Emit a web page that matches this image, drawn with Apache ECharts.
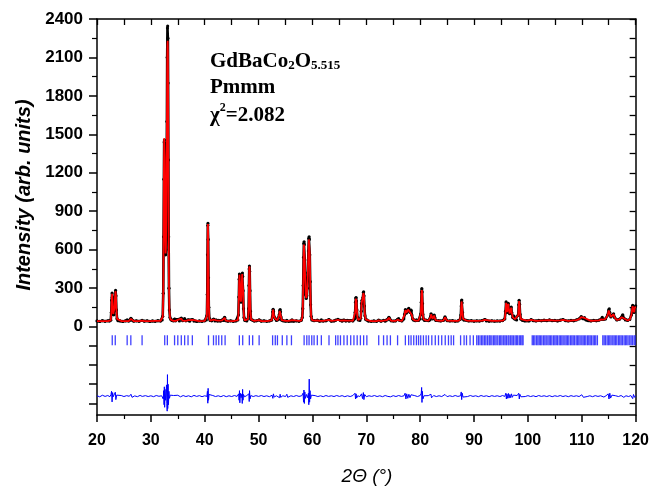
<!DOCTYPE html>
<html>
<head>
<meta charset="utf-8">
<script src="https://cdn.jsdelivr.net/npm/echarts@6/dist/echarts.min.js"></script>
<style>
  html, body { margin: 0; padding: 0; background: #fff; }
  #chart { width: 652px; height: 487px; }
</style>
</head>
<body>
<div id="chart"></div>
<script>
// observed intensity [2theta, counts]
const observed = [
  [20.0,44],[20.5,40],[21.0,46],[21.5,41],[22.0,45],[22.3,43],
  [22.55,50],[22.65,110],[22.72,205],[22.8,262],[22.86,228],[22.93,150],[23.02,95],[23.12,92],[23.25,140],[23.35,230],[23.45,282],[23.52,240],[23.6,130],[23.72,62],[23.9,46],
  [24.3,44],[24.8,40],[25.3,45],[25.6,52],[25.9,43],[26.1,50],[26.3,64],[26.45,50],[26.8,42],[27.3,45],[27.8,41],[28.37,48],[28.8,42],[29.3,45],[29.8,40],[30.3,44],[30.8,41],[31.3,46],[31.8,43],[32.1,52],
  [32.2,80],[32.3,260],[32.36,700],[32.42,1150],[32.47,1440],[32.52,1455],[32.57,1300],[32.62,1000],[32.68,700],[32.74,560],[32.8,600],[32.86,800],[32.92,1150],[32.98,1600],[33.03,2100],[33.08,2330],[33.12,2345],[33.16,2250],[33.2,1900],[33.25,1300],[33.3,700],[33.36,300],[33.43,130],[33.55,70],[33.7,55],
  [33.9,48],[34.2,44],[34.4,58],[34.6,45],[35.0,55],[35.3,44],[35.65,66],[35.9,46],[36.27,62],[36.5,45],[36.9,52],[37.2,42],[37.7,55],[38.0,43],[38.5,40],[39.0,44],[39.5,41],[40.0,45],[40.3,52],
  [40.4,85],[40.47,250],[40.52,560],[40.57,790],[40.6,805],[40.64,680],[40.7,380],[40.76,150],[40.85,65],[41.0,48],
  [41.3,45],[41.65,58],[41.9,44],[42.15,50],[42.4,42],[42.6,48],[42.9,42],[43.2,50],[43.5,48],[43.7,72],[43.9,46],[44.3,42],[44.8,45],[45.3,41],[45.8,44],[46.15,52],
  [46.25,90],[46.33,230],[46.4,370],[46.45,410],[46.5,395],[46.57,300],[46.65,210],[46.73,190],[46.8,240],[46.88,340],[46.95,405],[47.0,418],[47.05,390],[47.12,280],[47.2,140],[47.3,70],[47.45,48],
  [47.8,44],[48.05,60],[48.15,140],[48.21,320],[48.26,450],[48.3,472],[48.35,430],[48.41,280],[48.48,120],[48.6,55],[48.9,50],[49.2,43],[49.6,45],[50.1,52],[50.5,42],[51.0,45],[51.5,41],[52.0,44],[52.4,50],
  [52.55,75],[52.63,115],[52.7,135],[52.77,118],[52.85,80],[53.1,62],[53.3,48],[53.5,52],[53.7,55],[53.85,95],[53.93,125],[54.0,133],[54.07,115],[54.15,75],[54.3,50],[54.6,44],[55.0,42],[55.25,48],[55.6,41],[56.0,44],[56.2,52],[56.5,42],[57.0,45],[57.5,41],[57.9,48],[58.1,70],
  [58.2,140],[58.28,320],[58.35,540],[58.41,650],[58.45,662],[58.5,640],[58.57,520],[58.65,360],[58.75,250],[58.85,220],[58.95,240],[59.05,300],[59.15,420],[59.25,590],[59.33,690],[59.38,700],[59.43,680],[59.5,560],[59.58,350],[59.66,170],[59.75,80],[59.9,52],
  [60.3,46],[60.9,50],[61.3,42],[61.65,52],[62.0,43],[62.5,45],[63.07,55],[63.5,42],[64.0,44],[64.3,50],[64.73,56],[65.2,48],[65.5,42],[65.84,50],[66.2,43],[66.45,48],[66.8,42],[67.1,47],[67.5,44],[67.8,60],
  [67.92,110],[68.0,190],[68.06,222],[68.1,226],[68.16,200],[68.24,130],[68.35,72],[68.5,52],[68.8,48],[68.95,65],[69.05,120],[69.12,180],[69.2,205],[69.28,185],[69.36,225],[69.45,265],[69.5,270],[69.56,240],[69.64,160],[69.75,85],[69.9,55],[70.1,52],
  [70.4,43],[70.9,41],[71.4,44],[71.9,41],[72.3,50],[72.7,42],[73.2,48],[73.5,42],[73.85,52],[74.05,60],[74.2,72],[74.35,58],[74.6,45],[75.0,43],[75.4,44],[75.8,56],[76.0,62],[76.2,48],[76.6,44],[76.95,60],
  [77.1,95],[77.25,132],[77.35,118],[77.45,105],[77.6,120],[77.75,135],[77.88,142],[78.0,125],[78.12,110],[78.22,120],[78.32,128],[78.45,90],[78.6,60],[78.8,50],[79.1,46],[79.3,52],[79.7,48],[80.0,60],
  [80.12,100],[80.2,190],[80.26,270],[80.3,296],[80.35,270],[80.42,180],[80.5,95],[80.62,58],[80.8,48],[81.1,50],[81.55,46],[81.8,52],[81.95,80],[82.02,100],[82.1,85],[82.3,60],[82.5,70],[82.6,90],[82.7,72],[82.9,48],[83.4,46],[83.8,44],[84.3,48],[84.5,62],[84.6,75],[84.7,60],[85.0,46],[85.5,44],[86.0,46],[86.5,42],[87.0,44],[87.4,55],
  [87.55,90],[87.62,160],[87.68,200],[87.72,207],[87.78,185],[87.86,110],[87.96,60],[88.15,50],[88.6,48],[89.0,44],[89.5,46],[90.0,42],[90.5,45],[91.0,43],[91.5,47],[92.0,55],[92.3,44],[92.8,42],[93.3,45],[93.8,42],[94.3,44],[94.8,43],[95.3,47],[95.7,60],
  [95.85,120],[95.95,192],[96.05,150],[96.15,110],[96.25,150],[96.35,182],[96.45,140],[96.6,100],[96.8,130],[96.9,152],[97.0,110],[97.2,70],[97.4,82],[97.6,58],[97.9,52],[98.2,90],[98.3,170],[98.37,205],[98.45,175],[98.55,95],[98.7,58],[99.0,48],
  [99.4,44],[99.8,46],[100.2,44],[100.6,55],[101.0,46],[101.5,44],[102.0,48],[102.5,45],[103.0,50],[103.5,46],[104.0,52],[104.5,46],[105.0,48],[105.5,44],[106.0,50],[106.5,55],[107.0,46],[107.5,44],[108.0,48],[108.5,45],[109.0,52],[109.5,60],[109.9,78],[110.2,62],[110.5,70],[110.8,52],[111.2,46],[111.7,44],[112.2,48],[112.7,45],[113.2,50],[113.6,58],[113.8,72],[114.0,55],[114.4,60],[114.8,90],[115.0,130],[115.1,138],[115.2,110],[115.4,75],[115.6,85],[115.9,100],[116.1,70],[116.5,52],[117.0,58],[117.4,75],[117.6,92],[117.8,65],[118.1,52],[118.5,48],[118.9,55],[119.2,90],[119.35,140],[119.45,166],[119.55,130],[119.7,110],[119.85,150],[120.0,162]
];

// calculated profile [2theta, counts]
const calculated = [
  [20,42],[21,43],[22,43],[22.3,43],[22.55,48],[22.65,105],[22.72,200],[22.8,255],[22.86,225],[22.93,150],[23.02,98],[23.12,95],[23.25,145],[23.35,232],[23.45,276],[23.52,238],[23.6,130],[23.72,60],[23.9,45],
  [24.5,43],[25.3,43],[25.6,48],[25.9,43],[26.1,48],[26.3,60],[26.45,48],[26.8,43],[27.8,43],[28.37,46],[28.8,43],[29.8,43],[30.8,44],[31.8,45],[32.1,50],
  [32.2,75],[32.3,240],[32.36,720],[32.42,1200],[32.47,1470],[32.52,1480],[32.57,1320],[32.62,980],[32.68,690],[32.74,570],[32.8,620],[32.86,820],[32.92,1130],[32.98,1550],[33.03,1980],[33.08,2200],[33.12,2230],[33.16,2150],[33.2,1850],[33.25,1300],[33.3,720],[33.36,320],[33.43,140],[33.55,70],[33.7,54],
  [33.9,47],[34.2,45],[34.4,55],[34.6,45],[35.0,52],[35.3,45],[35.65,62],[35.9,46],[36.27,58],[36.5,45],[36.9,50],[37.2,44],[37.7,52],[38.0,44],[39.0,43],[40.0,44],[40.3,50],
  [40.4,82],[40.47,245],[40.52,550],[40.57,780],[40.6,800],[40.64,690],[40.7,390],[40.76,155],[40.85,65],[41.0,47],
  [41.3,45],[41.65,55],[41.9,45],[42.15,48],[42.4,44],[42.6,46],[42.9,44],[43.2,48],[43.5,47],[43.7,68],[43.9,46],[44.3,44],[45.3,43],[46.15,50],
  [46.25,88],[46.33,225],[46.4,362],[46.45,405],[46.5,395],[46.57,305],[46.65,215],[46.73,195],[46.8,245],[46.88,345],[46.95,410],[47.0,420],[47.05,395],[47.12,285],[47.2,142],[47.3,70],[47.45,48],
  [47.8,45],[48.05,58],[48.15,135],[48.21,315],[48.26,448],[48.3,470],[48.35,432],[48.41,285],[48.48,122],[48.6,55],[48.9,49],[49.2,44],[50.1,50],[50.5,43],[51.5,43],[52.4,48],
  [52.55,72],[52.63,112],[52.7,132],[52.77,120],[52.85,82],[53.1,60],[53.3,48],[53.5,50],[53.7,54],[53.85,92],[53.93,122],[54.0,130],[54.07,115],[54.15,76],[54.3,50],[54.6,45],[55.0,44],[55.25,47],[55.6,44],[56.2,50],[56.5,44],[57.5,44],[57.9,47],[58.1,68],
  [58.2,138],[58.28,318],[58.35,530],[58.41,640],[58.45,652],[58.5,635],[58.57,525],[58.65,365],[58.75,255],[58.85,222],[58.95,242],[59.05,302],[59.15,425],[59.25,585],[59.33,680],[59.38,690],[59.43,675],[59.5,565],[59.58,352],[59.66,172],[59.75,80],[59.9,52],
  [60.3,46],[60.9,48],[61.3,44],[61.65,50],[62.0,44],[63.07,52],[63.5,44],[64.3,48],[64.73,53],[65.2,47],[65.5,44],[65.84,48],[66.2,44],[66.45,47],[67.1,46],[67.5,45],[67.8,58],
  [67.92,108],[68.0,185],[68.06,218],[68.1,222],[68.16,202],[68.24,132],[68.35,72],[68.5,52],[68.8,48],[68.95,63],[69.05,118],[69.12,178],[69.2,200],[69.28,188],[69.36,228],[69.45,262],[69.5,265],[69.56,242],[69.64,162],[69.75,85],[69.9,55],[70.1,50],
  [70.9,43],[71.9,43],[72.3,48],[72.7,43],[73.2,46],[73.85,50],[74.05,58],[74.2,68],[74.35,56],[74.6,45],[75.4,44],[75.8,54],[76.0,58],[76.2,47],[76.6,45],[76.95,58],
  [77.1,92],[77.25,128],[77.35,120],[77.45,108],[77.6,118],[77.75,132],[77.88,138],[78.0,128],[78.12,112],[78.22,118],[78.32,125],[78.45,90],[78.6,60],[78.8,50],[79.1,46],[79.3,50],[79.7,47],[80.0,58],
  [80.12,98],[80.2,185],[80.26,262],[80.3,285],[80.35,265],[80.42,182],[80.5,96],[80.62,58],[80.8,48],[81.1,48],[81.55,46],[81.8,50],[81.95,76],[82.02,96],[82.1,84],[82.3,60],[82.5,68],[82.6,86],[82.7,70],[82.9,48],[83.8,45],[84.3,47],[84.5,60],[84.6,72],[84.7,60],[85.0,46],[86.0,45],[87.0,44],[87.4,53],
  [87.55,88],[87.62,155],[87.68,196],[87.72,202],[87.78,183],[87.86,112],[87.96,60],[88.15,50],[88.6,47],[89.5,45],[90.5,45],[91.5,46],[92.0,52],[92.3,45],[93.3,44],[94.3,44],[95.3,46],[95.7,58],
  [95.85,118],[95.95,186],[96.05,152],[96.15,112],[96.25,148],[96.35,178],[96.45,142],[96.6,102],[96.8,128],[96.9,148],[97.0,112],[97.2,72],[97.4,78],[97.6,58],[97.9,52],[98.2,88],[98.3,165],[98.37,198],[98.45,172],[98.55,96],[98.7,58],[99.0,48],
  [99.8,46],[100.6,52],[101.5,45],[103.0,48],[104.0,50],[105.0,47],[106.0,49],[106.5,53],[107.5,45],[109.0,50],[109.5,58],[109.9,74],[110.2,62],[110.5,67],[110.8,52],[111.7,45],[113.2,48],[113.6,56],[113.8,68],[114.0,55],[114.4,60],[114.8,88],[115.0,125],[115.1,132],[115.2,110],[115.4,76],[115.6,84],[115.9,96],[116.1,70],[116.5,53],[117.0,57],[117.4,73],[117.6,88],[117.8,65],[118.1,52],[118.5,48],[118.9,54],[119.2,88],[119.35,135],[119.45,160],[119.55,132],[119.7,112],[119.85,146],[120.0,156]
];

// obs - calc, shifted down
const difference = [
  [20,-540],[20.5,-548],[21,-536],[21.5,-545],[22,-538],[22.4,-547],[22.6,-530],[22.7,-505],[22.8,-588],[22.9,-515],[23.0,-548],[23.3,-560],[23.4,-512],[23.5,-570],[23.65,-535],
  [24.0,-545],[24.5,-538],[25.0,-546],[25.5,-539],[26.0,-544],[26.3,-528],[26.5,-552],[27.0,-541],[27.5,-547],[28.0,-537],[28.4,-545],[29.0,-539],[29.5,-546],[30.0,-540],[30.5,-547],[31.0,-538],[31.5,-544],[32.0,-540],
  [32.2,-530],[32.3,-565],[32.38,-500],[32.45,-610],[32.5,-470],[32.56,-630],[32.63,-490],[32.72,-575],[32.82,-520],[32.9,-455],[32.97,-600],[33.03,-660],[33.08,-375],[33.13,-640],[33.2,-450],[33.27,-610],[33.35,-505],[33.45,-560],[33.6,-535],
  [33.8,-546],[34.2,-538],[34.5,-550],[35.0,-536],[35.5,-548],[36.0,-538],[36.5,-546],[37.0,-540],[37.5,-548],[38.0,-537],[38.5,-545],[39.0,-539],[39.5,-547],[40.0,-540],[40.4,-545],
  [40.5,-505],[40.57,-598],[40.63,-482],[40.7,-575],[40.8,-530],
  [41.0,-545],[41.5,-538],[42.0,-546],[42.5,-540],[43.0,-547],[43.5,-538],[43.7,-525],[44.0,-547],[44.5,-540],[45.0,-546],[45.5,-538],[46.0,-545],
  [46.3,-525],[46.38,-575],[46.45,-500],[46.52,-595],[46.6,-520],[46.75,-555],[46.9,-525],[46.97,-600],[47.03,-490],[47.1,-575],[47.2,-530],[47.4,-548],[47.8,-538],
  [48.2,-525],[48.26,-585],[48.32,-500],[48.4,-565],[48.55,-538],
  [49.0,-546],[49.5,-539],[50.0,-545],[50.5,-538],[51.0,-546],[51.5,-540],[52.0,-547],[52.5,-536],[52.65,-560],[52.75,-525],[52.9,-550],[53.3,-540],[53.9,-555],[54.0,-528],[54.1,-552],[54.5,-540],[55.0,-546],[55.25,-528],[55.4,-552],[56.0,-540],[56.5,-546],[57.0,-538],[57.5,-545],[58.0,-540],
  [58.25,-520],[58.35,-590],[58.42,-495],[58.5,-600],[58.58,-510],[58.7,-560],[58.9,-530],[59.1,-555],[59.25,-520],[59.32,-610],[59.4,-410],[59.47,-590],[59.55,-500],[59.65,-565],[59.8,-535],
  [60.1,-547],[60.5,-539],[61.0,-546],[61.5,-540],[62.0,-547],[62.5,-538],[63.0,-545],[63.5,-540],[64.0,-546],[64.5,-538],[65.0,-545],[65.5,-539],[66.0,-547],[66.5,-540],[67.0,-546],[67.5,-538],
  [67.9,-520],[68.0,-565],[68.1,-525],[68.2,-558],[68.4,-540],[68.8,-546],[69.1,-525],[69.3,-562],[69.45,-515],[69.55,-570],[69.7,-530],
  [70.0,-547],[70.5,-540],[71.0,-545],[71.5,-538],[72.0,-546],[72.5,-540],[73.0,-547],[73.5,-538],[74.0,-545],[74.2,-530],[74.5,-548],[75.0,-539],[75.5,-546],[76.0,-538],[76.5,-545],[77.0,-540],
  [77.2,-520],[77.35,-565],[77.5,-525],[77.7,-560],[77.9,-528],[78.1,-555],[78.3,-532],[78.6,-546],[79.0,-539],[79.5,-546],[80.0,-538],
  [80.2,-520],[80.27,-475],[80.33,-592],[80.4,-505],[80.5,-565],[80.7,-540],
  [81.0,-546],[81.5,-539],[82.0,-528],[82.1,-556],[82.5,-538],[83.0,-546],[83.5,-540],[84.0,-546],[84.6,-530],[85.0,-547],[85.5,-540],[86.0,-546],[86.5,-538],[87.0,-545],[87.5,-540],
  [87.62,-510],[87.7,-570],[87.8,-520],[87.95,-550],
  [88.3,-540],[88.8,-546],[89.3,-538],[89.8,-545],[90.3,-540],[90.8,-547],[91.3,-538],[91.8,-545],[92.3,-540],[92.8,-547],[93.3,-539],[93.8,-545],[94.3,-540],[94.8,-546],[95.3,-538],[95.7,-545],
  [95.9,-520],[96.0,-565],[96.1,-525],[96.25,-560],[96.4,-522],[96.5,-558],[96.65,-530],[96.8,-555],[96.95,-525],[97.1,-552],[97.3,-535],[97.6,-548],[98.0,-538],[98.3,-520],[98.4,-565],[98.5,-528],[98.7,-548],
  [99.0,-540],[99.5,-546],[100.0,-539],[100.5,-546],[101.0,-540],[101.5,-547],[102.0,-538],[102.5,-545],[103.0,-540],[103.5,-546],[104.0,-539],[104.5,-547],[105.0,-540],[105.5,-545],[106.0,-538],[106.5,-546],[107.0,-540],[107.5,-547],[108.0,-539],[108.5,-545],[109.0,-540],[109.5,-546],
  [110.0,-532],[110.3,-552],[110.6,-538],[111.0,-546],[111.5,-540],[112.0,-547],[112.5,-539],[113.0,-545],[113.5,-540],[113.8,-530],[114.1,-550],[114.5,-540],
  [114.9,-525],[115.05,-565],[115.2,-520],[115.35,-558],[115.6,-535],[115.9,-550],[116.3,-540],[116.8,-546],[117.3,-538],[117.6,-528],[117.8,-552],[118.2,-540],[118.7,-546],[119.1,-538],[119.3,-525],[119.45,-562],[119.6,-530],[119.8,-552],[120.0,-540]
];

// Bragg reflection positions (2theta)
const braggPositions = [
  22.83, 23.39, 25.6, 26.28, 28.37, 32.57, 33.06, 34.4, 35.0, 35.65, 36.27, 36.9, 37.7,
  40.7, 41.63, 42.12, 42.6, 43.16, 43.78, 46.43, 47.05, 48.28, 48.9, 50.1,
  52.6, 53.1, 53.5, 54.4, 55.25, 56.1, 58.45, 58.95, 59.37, 59.87, 60.3, 60.9, 61.65,
  63.07, 64.3, 64.73, 65.2, 65.84, 66.45, 67.1, 67.7, 68.3, 68.9, 69.5, 70.1,
  72.3, 73.2, 73.85, 74.47, 75.8, 77.25, 77.86, 78.3, 78.8, 79.3, 79.7, 80.1, 80.6,
  81.1, 81.55, 82.16, 82.8, 83.4, 84.0, 84.65, 85.25, 85.75, 86.2,
  87.5, 88.15, 88.6, 89.26, 89.87, 90.5, 90.8, 91.1, 91.4, 91.65, 91.95, 92.2, 92.5,
  92.8, 93.0, 93.3, 93.6, 93.85, 94.1, 94.4, 94.7, 94.95, 95.2, 95.5, 95.75, 96.0,
  96.3, 96.5, 96.8, 97.05, 97.3, 97.6, 97.85, 98.1, 98.4, 98.65, 98.9, 99.1,
  100.8, 101.05, 101.3, 101.6, 101.85, 102.1, 102.35, 102.6, 102.9, 103.15, 103.4,
  103.7, 103.95, 104.2, 104.45, 104.75, 105.0, 105.25, 105.5, 105.8, 106.05, 106.3,
  106.55, 106.85, 107.1, 107.35, 107.6, 107.9, 108.15, 108.4, 108.65, 108.95, 109.2,
  109.45, 109.7, 110.0, 110.25, 110.5, 110.75, 111.05, 111.3, 111.55, 111.8, 112.1,
  112.35, 112.6, 112.9, 113.9, 114.15, 114.4, 114.7, 114.95, 115.2, 115.45, 115.75,
  116.0, 116.25, 116.5, 116.8, 117.05, 117.3, 117.55, 117.85, 118.1, 118.35, 118.6,
  118.9, 119.15, 119.4, 119.7, 119.9
];
const braggLevel = -107;

const yLabelValues = [0, 300, 600, 900, 1200, 1500, 1800, 2100, 2400];
const yMajorTicks = [-600, -450, -300, -150, 0, 300, 600, 900, 1200, 1500, 1800, 2100, 2400];
const yMinorTicks = [150, 450, 750, 1050, 1350, 1650, 1950, 2250];
const yRightTicks = [-600, -450, -300, -150, 0, 150, 300, 450, 600, 750, 900, 1050, 1200,
  1350, 1500, 1650, 1800, 1950, 2100, 2250, 2400];

const Y_MIN = -690;
const Y_MAX = 2400;
const LABEL_FONT = "Liberation Sans, Arial, sans-serif";
const SERIF = "Liberation Serif, Times New Roman, serif";

const chart = echarts.init(document.getElementById("chart"), null, { renderer: "canvas" });

const gridBox = { left: 97, right: 14, top: 19, bottom: 72 };
const blackLine = { show: true, onZero: false, lineStyle: { color: "#000", width: 1.5 } };

chart.setOption({
  animation: false,
  backgroundColor: "#fff",
  grid: [
    { ...gridBox, containLabel: false },
    { ...gridBox, containLabel: false },
  ],
  xAxis: [
    {
      gridIndex: 0,
      type: "value",
      position: "bottom",
      min: 20,
      max: 120,
      interval: 10,
      axisLine: blackLine,
      axisTick: { inside: false, length: 7, lineStyle: { color: "#000", width: 1.5 } },
      minorTick: { show: true, splitNumber: 2, length: 4, lineStyle: { color: "#000", width: 1.2 } },
      axisLabel: {
        color: "#000",
        fontFamily: LABEL_FONT,
        fontWeight: "bold",
        fontSize: 16,
        margin: 18,
        formatter: (v) => String(v),
      },
      splitLine: { show: false },
    },
    {
      gridIndex: 0,
      type: "value",
      position: "top",
      min: 20,
      max: 120,
      interval: 5,
      axisLine: blackLine,
      axisTick: { inside: true, length: 6, lineStyle: { color: "#000", width: 1.3 } },
      axisLabel: { show: false },
      splitLine: { show: false },
    },
    {
      gridIndex: 1,
      type: "value",
      min: 20,
      max: 120,
      show: false,
    },
  ],
  yAxis: [
    {
      gridIndex: 0,
      type: "value",
      position: "left",
      min: Y_MIN,
      max: Y_MAX,
      axisLine: blackLine,
      axisTick: {
        inside: false,
        length: 8,
        customValues: yMajorTicks,
        lineStyle: { color: "#000", width: 1.5 },
      },
      axisLabel: {
        customValues: yLabelValues,
        color: "#000",
        fontFamily: LABEL_FONT,
        fontWeight: "bold",
        fontSize: 17,
        margin: 14,
        formatter: (v) => String(v),
      },
      splitLine: { show: false },
    },
    {
      gridIndex: 0,
      type: "value",
      position: "right",
      min: Y_MIN,
      max: Y_MAX,
      axisLine: blackLine,
      axisTick: {
        inside: true,
        length: 6,
        customValues: yRightTicks,
        lineStyle: { color: "#000", width: 1.3 },
      },
      axisLabel: { show: false },
      splitLine: { show: false },
    },
    {
      gridIndex: 1,
      type: "value",
      position: "left",
      min: Y_MIN,
      max: Y_MAX,
      axisLine: { show: false },
      axisTick: {
        inside: false,
        length: 5,
        customValues: yMinorTicks,
        lineStyle: { color: "#000", width: 1.2 },
      },
      axisLabel: { show: false },
      splitLine: { show: false },
    },
  ],
  series: [
    {
      name: "Observed",
      type: "line",
      xAxisIndex: 0,
      yAxisIndex: 0,
      data: observed,
      symbol: "circle",
      symbolSize: 3.2,
      showSymbol: true,
      showAllSymbol: true,
      itemStyle: { color: "#000" },
      lineStyle: { color: "#000", width: 2.6 },
      z: 2,
    },
    {
      name: "Calculated",
      type: "line",
      xAxisIndex: 0,
      yAxisIndex: 0,
      data: calculated,
      symbol: "none",
      lineStyle: { color: "#ff0000", width: 1.8 },
      z: 3,
    },
    {
      name: "Bragg",
      type: "scatter",
      xAxisIndex: 0,
      yAxisIndex: 0,
      data: braggPositions.map((p) => [p, braggLevel]),
      symbol: "rect",
      symbolSize: [1.3, 10],
      itemStyle: { color: "#1010ff" },
      z: 2,
    },
    {
      name: "Difference",
      type: "line",
      xAxisIndex: 0,
      yAxisIndex: 0,
      data: difference,
      symbol: "none",
      lineStyle: { color: "#0000ff", width: 1 },
      z: 2,
    },
  ],
  graphic: [
    {
      type: "text",
      x: 24,
      y: 195,
      rotation: Math.PI / 2,
      style: {
        text: "Intensity (arb. units)",
        font: "italic bold 20px " + LABEL_FONT,
        fill: "#000",
        align: "center",
        verticalAlign: "middle",
        textAlign: "center",
        textVerticalAlign: "middle",
      },
    },
    {
      type: "text",
      x: 367,
      y: 477,
      style: {
        text: "2Θ (°)",
        font: "italic 19px " + LABEL_FONT,
        fill: "#000",
        align: "center",
        verticalAlign: "middle",
        textAlign: "center",
        textVerticalAlign: "middle",
      },
    },
    {
      type: "text",
      x: 210,
      y: 48,
      style: {
        text: "{m|GdBaCo}{s|2}{m|O}{s|5.515}",
        fill: "#000",
        align: "left",
        verticalAlign: "top",
        rich: {
          m: { font: "bold 21px " + SERIF, lineHeight: 24, verticalAlign: "bottom", fill: "#000" },
          s: { font: "bold 13px " + SERIF, lineHeight: 14, verticalAlign: "bottom", fill: "#000" },
        },
      },
    },
    {
      type: "text",
      x: 210,
      y: 76,
      style: {
        text: "{m|Pmmm}",
        fill: "#000",
        align: "left",
        verticalAlign: "top",
        rich: {
          m: { font: "bold 21px " + SERIF, lineHeight: 24, fill: "#000" },
        },
      },
    },
    {
      type: "text",
      x: 210,
      y: 102,
      style: {
        text: "{m|χ}{p|2}{m|=2.082}",
        fill: "#000",
        align: "left",
        verticalAlign: "top",
        rich: {
          m: { font: "bold 21px " + SERIF, lineHeight: 24, verticalAlign: "bottom", fill: "#000" },
          p: { font: "bold 12px " + SERIF, lineHeight: 12, verticalAlign: "top", fill: "#000" },
        },
      },
    },
  ],
});
</script>
</body>
</html>
